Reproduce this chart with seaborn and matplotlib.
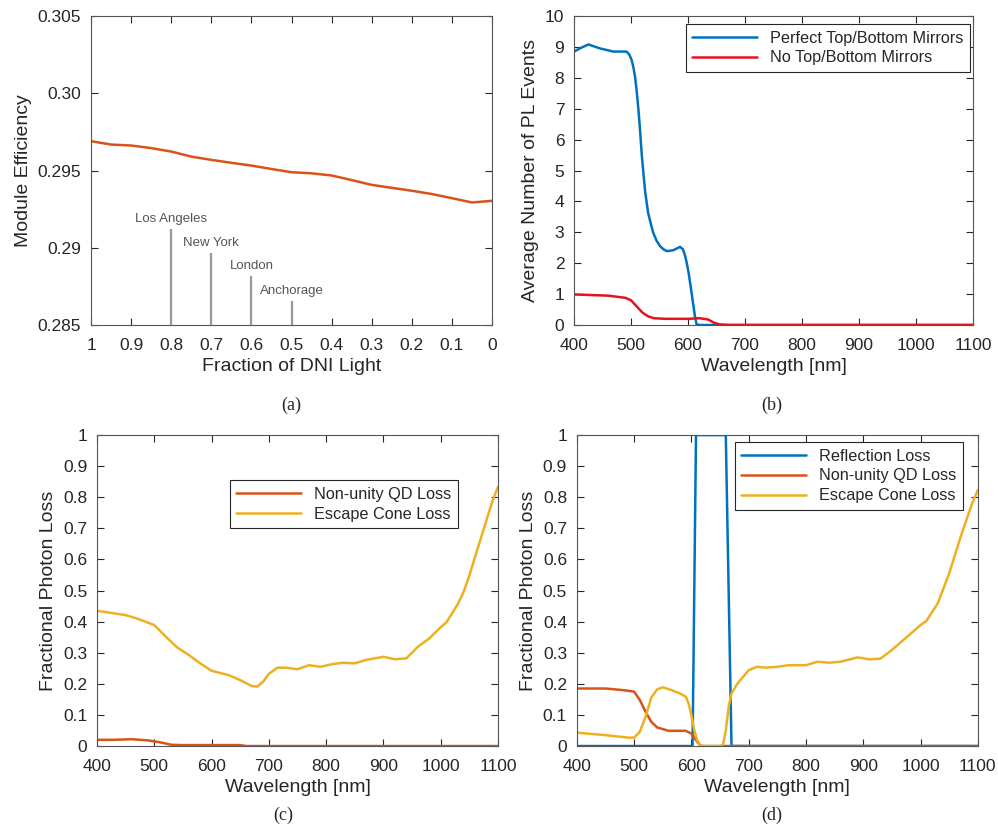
import matplotlib as mpl
mpl.use('Agg')
import matplotlib.pyplot as plt
import seaborn as sns
import numpy as np

# ---- data ----
# (a) module efficiency vs fraction of DNI light
dni_frac = [1.0, 0.95, 0.9, 0.85, 0.8, 0.75, 0.7, 0.65, 0.6, 0.55, 0.5, 0.45, 0.4, 0.35,
            0.3, 0.25, 0.2, 0.15, 0.1, 0.05, 0.0]
module_eff = [0.29690, 0.29668, 0.29662, 0.29645, 0.29623, 0.29590, 0.29569, 0.29550, 0.29532,
              0.29510, 0.29489, 0.29482, 0.29468, 0.29438, 0.29407, 0.29388, 0.29369, 0.29348,
              0.29321, 0.29293, 0.29304]
cities = ['Los Angeles', 'New York', 'London', 'Anchorage']
city_frac = [0.8, 0.7, 0.6, 0.5]
city_mark = [0.29121, 0.28966, 0.28815, 0.28657]

# (b) average number of PL events
wl_b = [400, 410, 425, 446, 469, 492, 497, 501, 504, 507, 510, 513, 516, 519, 522, 525, 530,
        535, 539, 545, 551, 557, 563, 574, 586, 591, 595, 598, 601, 604, 607, 610, 612, 615,
        620, 700, 800, 900, 1000, 1100]
pl_mirror = [8.85, 8.95, 9.08, 8.95, 8.85, 8.85, 8.75, 8.58, 8.35, 8.04, 7.55, 6.96, 6.25,
             5.46, 4.85, 4.27, 3.63, 3.25, 2.98, 2.72, 2.55, 2.45, 2.39, 2.42, 2.53, 2.45,
             2.23, 1.98, 1.69, 1.32, 0.94, 0.55, 0.29, 0.02, 0.0, 0.0, 0.0, 0.0, 0.0, 0.0]
wl_b2 = [400, 430, 460, 490, 500, 510, 520, 530, 540, 560, 580, 600, 620, 635, 645, 655, 670,
         700, 800, 900, 1000, 1100]
pl_nomirror = [0.99, 0.97, 0.95, 0.88, 0.80, 0.60, 0.40, 0.28, 0.22, 0.20, 0.20, 0.20, 0.22,
               0.18, 0.08, 0.02, 0.0, 0.0, 0.0, 0.0, 0.0, 0.0]

# (c) fractional photon loss, no mirrors
wl_c = [400, 450, 470, 500, 520, 540, 560, 580, 600, 630, 650, 670, 680, 690, 700, 715, 730,
        750, 770, 790, 810, 830, 850, 870, 900, 920, 940, 960, 980, 1000, 1010, 1020, 1030,
        1040, 1050, 1060, 1070, 1080, 1090, 1100]
escape_c = [0.435, 0.421, 0.410, 0.389, 0.352, 0.317, 0.293, 0.266, 0.242, 0.228, 0.212, 0.193,
            0.191, 0.207, 0.232, 0.252, 0.252, 0.247, 0.260, 0.255, 0.263, 0.268, 0.266, 0.277,
            0.287, 0.279, 0.282, 0.319, 0.346, 0.382, 0.398, 0.427, 0.457, 0.496, 0.548, 0.609,
            0.668, 0.727, 0.786, 0.834]
wl_c2 = [400, 430, 460, 490, 510, 530, 550, 600, 650, 660, 700, 800, 900, 1000, 1100]
qd_c = [0.020, 0.020, 0.022, 0.018, 0.012, 0.004, 0.003, 0.003, 0.003, 0.0, 0.0, 0.0, 0.0, 0.0, 0.0]

# (d) fractional photon loss, with mirrors
wl_refl = [400, 602, 608, 660, 670, 1100]
refl_d = [0.0, 0.0, 1.0, 1.0, 0.0, 0.0]
wl_d2 = [400, 450, 480, 500, 510, 520, 530, 540, 560, 590, 600, 610, 615, 620, 700, 800, 900,
         1000, 1100]
qd_d = [0.185, 0.185, 0.180, 0.175, 0.148, 0.110, 0.078, 0.060, 0.049, 0.049, 0.040, 0.014,
        0.003, 0.0, 0.0, 0.0, 0.0, 0.0, 0.0]
wl_d3 = [400, 450, 490, 500, 510, 520, 530, 540, 550, 565, 580, 590, 595, 600, 605, 610, 615,
         620, 650, 655, 660, 665, 670, 680, 700, 715, 730, 750, 770, 800, 820, 840, 860, 890,
         910, 930, 950, 970, 990, 1000, 1010, 1030, 1050, 1070, 1090, 1100]
escape_d = [0.043, 0.035, 0.027, 0.027, 0.046, 0.094, 0.156, 0.182, 0.189, 0.180, 0.169, 0.159,
            0.137, 0.100, 0.051, 0.019, 0.003, 0.0, 0.0, 0.003, 0.050, 0.126, 0.169, 0.200,
            0.244, 0.255, 0.252, 0.255, 0.260, 0.260, 0.271, 0.268, 0.271, 0.285, 0.279, 0.281,
            0.309, 0.341, 0.373, 0.389, 0.402, 0.459, 0.555, 0.673, 0.780, 0.823]

BLUE = '#0072BD'
ORANGE = '#D95319'
YELLOW = '#EDB120'

sns.set_style('white')
plt.rcParams['font.family'] = ['Liberation Sans', 'DejaVu Sans']
plt.rcParams['axes.edgecolor'] = '#262626'
plt.rcParams['xtick.direction'] = 'in'
plt.rcParams['ytick.direction'] = 'in'

fig = plt.figure(figsize=(9.98, 8.27), dpi=100)
ax_a = fig.add_axes([0.0912, 0.607, 0.4018, 0.3736])
ax_b = fig.add_axes([0.5752, 0.607, 0.3998, 0.3736])
ax_c = fig.add_axes([0.0972, 0.0979, 0.4018, 0.376])
ax_d = fig.add_axes([0.578, 0.0979, 0.4018, 0.376])


def style_axis(ax):
    ax.tick_params(which='both', top=True, right=True, bottom=True, left=True,
                   length=5, width=0.8, colors='#262626', labelsize=12.5)
    ax.tick_params(axis='x', pad=9)
    ax.tick_params(axis='y', pad=7)
    for s in ax.spines.values():
        s.set_linewidth(0.8)
        s.set_color('#555555')
    ax.grid(False)


LABEL_FS = 14

# (a)
sns.lineplot(x=dni_frac, y=module_eff, ax=ax_a, color=ORANGE, lw=1.8, estimator=None, sort=False)
ax_a.vlines(city_frac, 0.285, city_mark, colors='#999999', lw=1.6)
for name, fx, top in zip(cities, city_frac, city_mark):
    ax_a.text(fx, top + 0.00025, name, ha='center', va='bottom', fontsize=9.5, color='#555555')
ax_a.set_xlim(1, 0)
ax_a.set_ylim(0.285, 0.305)
ax_a.set_xticks(np.round(np.arange(1.0, -0.01, -0.1), 1))
ax_a.set_xticklabels(['1', '0.9', '0.8', '0.7', '0.6', '0.5', '0.4', '0.3', '0.2', '0.1', '0'])
ax_a.set_yticks([0.285, 0.29, 0.295, 0.30, 0.305])
ax_a.set_yticklabels(['0.285', '0.29', '0.295', '0.30', '0.305'])
ax_a.set_xlabel('Fraction of DNI Light', fontsize=LABEL_FS)
ax_a.set_ylabel('Module Efficiency', fontsize=LABEL_FS)
style_axis(ax_a)

# (b)
sns.lineplot(x=wl_b, y=pl_mirror, ax=ax_b, color=BLUE, lw=1.8, estimator=None,
             label='Perfect Top/Bottom Mirrors')
sns.lineplot(x=wl_b2, y=pl_nomirror, ax=ax_b, color='#E8101E', lw=1.8, estimator=None,
             label='No Top/Bottom Mirrors')
ax_b.set_xlim(400, 1100)
ax_b.set_ylim(0, 10)
ax_b.set_xticks(range(400, 1101, 100))
ax_b.set_yticks(range(0, 11))
ax_b.set_xlabel('Wavelength [nm]', fontsize=LABEL_FS)
ax_b.set_ylabel('Average Number of PL Events', fontsize=LABEL_FS)
style_axis(ax_b)

# (c)
sns.lineplot(x=wl_c2, y=qd_c, ax=ax_c, color=ORANGE, lw=1.8, estimator=None,
             label='Non-unity QD Loss')
sns.lineplot(x=wl_c, y=escape_c, ax=ax_c, color=YELLOW, lw=1.8, estimator=None,
             label='Escape Cone Loss')
ax_c.set_xlim(400, 1100)
ax_c.set_ylim(0, 1)
ax_c.set_xticks(range(400, 1101, 100))
ax_c.set_yticks(np.round(np.arange(0, 1.01, 0.1), 1))
ax_c.set_yticklabels(['0', '0.1', '0.2', '0.3', '0.4', '0.5', '0.6', '0.7', '0.8', '0.9', '1'])
ax_c.set_xlabel('Wavelength [nm]', fontsize=LABEL_FS)
ax_c.set_ylabel('Fractional Photon Loss', fontsize=LABEL_FS)
style_axis(ax_c)

# (d)
sns.lineplot(x=wl_refl, y=refl_d, ax=ax_d, color=BLUE, lw=1.8, estimator=None,
             label='Reflection Loss')
sns.lineplot(x=wl_d2, y=qd_d, ax=ax_d, color=ORANGE, lw=1.8, estimator=None,
             label='Non-unity QD Loss')
sns.lineplot(x=wl_d3, y=escape_d, ax=ax_d, color=YELLOW, lw=1.8, estimator=None,
             label='Escape Cone Loss')
ax_d.set_xlim(400, 1100)
ax_d.set_ylim(0, 1)
ax_d.set_xticks(range(400, 1101, 100))
ax_d.set_yticks(np.round(np.arange(0, 1.01, 0.1), 1))
ax_d.set_yticklabels(['0', '0.1', '0.2', '0.3', '0.4', '0.5', '0.6', '0.7', '0.8', '0.9', '1'])
ax_d.set_xlabel('Wavelength [nm]', fontsize=LABEL_FS)
ax_d.set_ylabel('Fractional Photon Loss', fontsize=LABEL_FS)
style_axis(ax_d)

legend_kw = dict(fontsize=11.7, frameon=True, fancybox=False, edgecolor='#262626',
                 framealpha=1, handlelength=4.0, borderpad=0.4, labelspacing=0.3,
                 borderaxespad=0.0)
ax_b.legend(loc='upper right', bbox_to_anchor=(0.9925, 0.974), **legend_kw)
ax_c.legend(loc='upper right', bbox_to_anchor=(0.90, 0.855), **legend_kw)
ax_d.legend(loc='upper right', bbox_to_anchor=(0.9626, 0.9775), **legend_kw)
for lg in [ax_b.get_legend(), ax_c.get_legend(), ax_d.get_legend()]:
    lg.get_frame().set_linewidth(0.8)

cap_kw = dict(ha='center', va='center', fontsize=13, family='Liberation Serif')
fig.text(291 / 998, 1 - 405 / 827, '(a)', **cap_kw)
fig.text(772 / 998, 1 - 405 / 827, '(b)', **cap_kw)
fig.text(283 / 998, 1 - 815 / 827, '(c)', **cap_kw)
fig.text(772 / 998, 1 - 815 / 827, '(d)', **cap_kw)

fig.savefig('out.png', dpi=100)
